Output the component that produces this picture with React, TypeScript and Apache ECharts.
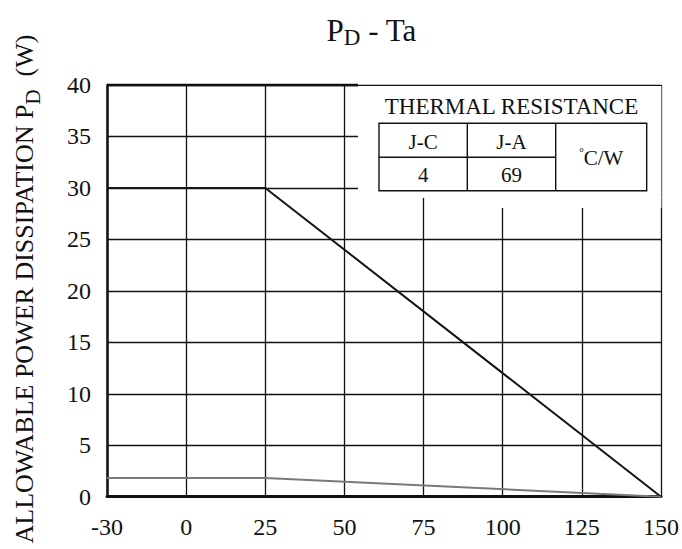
import React, { useEffect, useRef } from "react";
import * as echarts from "echarts";

// ---- data ----
const tempCategories = ["-30", "0", "25", "50", "75", "100", "125", "150"];
const yMin = 0;
const yMax = 40;
const yInterval = 5;
// P_D vs Ta with infinite heat sink (J-C)
const pdJunctionCase: [string, number][] = [
  ["-30", 30],
  ["25", 30],
  ["150", 0],
];
// P_D vs Ta without heat sink (J-A)
const pdJunctionAmbient: [string, number][] = [
  ["-30", 1.81],
  ["25", 1.81],
  ["150", 0],
];
const thermalHeaders = ["J-C", "J-A"];
const thermalValues = ["4", "69"];
const thermalUnit = "C/W";
const tableTitle = "THERMAL RESISTANCE";

const FONT = "Liberation Serif";
const INK = "#111";

export default function App() {
  const ref = useRef<HTMLDivElement>(null);
  useEffect(() => {
    if (!ref.current) return;
    const chart = echarts.init(ref.current, null, { renderer: "svg" });

    // layout (pixels)
    const gl = 107, gt = 85, gr = 662, gb = 496.7;
    const tx0 = 379, tx1 = 467.3, tx2 = 555.7, tx3 = 646.7;
    const ty0 = 123.3, ty1 = 157.3, ty2 = 190.7;

    const txt = (text: string, x: number, y: number, size: number) => ({
      type: "text",
      x,
      y,
      z: 110,
      style: {
        text,
        fill: INK,
        font: `${size}px "${FONT}"`,
        textAlign: "center",
        textVerticalAlign: "middle",
      },
    });

    chart.setOption({
      animation: false,
      backgroundColor: "#fff",
      grid: { left: gl, top: gt, width: gr - gl, height: gb - gt, show: false },
      xAxis: {
        type: "category",
        data: tempCategories,
        boundaryGap: false,
        axisLine: { show: true, lineStyle: { color: INK, width: 3 } },
        axisTick: { show: false },
        axisLabel: { color: INK, fontFamily: FONT, fontSize: 24, margin: 18 },
        splitLine: { show: true, lineStyle: { color: INK, width: 1.3 } },
      },
      yAxis: {
        type: "value",
        min: yMin,
        max: yMax,
        interval: yInterval,
        axisLine: { show: true, lineStyle: { color: INK, width: 2.5 } },
        axisTick: { show: false },
        axisLabel: { color: INK, fontFamily: FONT, fontSize: 24, margin: 16 },
        splitLine: { show: true, lineStyle: { color: INK, width: 1.3 } },
      },
      series: [
        {
          type: "line",
          data: pdJunctionCase,
          symbol: "none",
          lineStyle: { color: "#151515", width: 2 },
          z: 5,
        },
        {
          type: "line",
          data: pdJunctionAmbient,
          symbol: "none",
          lineStyle: { color: "#7a7a7a", width: 2 },
          z: 5,
        },
      ],
      graphic: [
        // title
        {
          type: "text",
          x: 371.5,
          y: 30,
          z: 110,
          style: {
            text: "{p|P}{d|D}{p| - Ta}",
            textAlign: "center",
            textVerticalAlign: "middle",
            fill: INK,
            rich: {
              p: { fontFamily: FONT, fontSize: 31, lineHeight: 38, verticalAlign: "middle", fill: INK },
              d: { fontFamily: FONT, fontSize: 23, lineHeight: 38, verticalAlign: "bottom", fill: INK },
            },
          },
        },
        // y axis name
        {
          type: "text",
          x: 24.5,
          y: 289,
          rotation: Math.PI / 2,
          z: 110,
          style: {
            text: "{p|ALLOWABLE POWER DISSIPATION P}{d|D}{p|  (W)}",
            textAlign: "center",
            textVerticalAlign: "middle",
            fill: INK,
            rich: {
              p: { fontFamily: FONT, fontSize: 26, lineHeight: 38, verticalAlign: "middle", fill: INK },
              d: { fontFamily: FONT, fontSize: 21, lineHeight: 38, verticalAlign: "bottom", fill: INK },
            },
          },
        },
        // white area behind the table
        { type: "rect", z: 100, shape: { x: 358, y: 86, width: gr - 358 - 0.6, height: 112 }, style: { fill: "#fff" } },
        { type: "rect", z: 100, shape: { x: 460, y: 197, width: gr - 460 - 0.6, height: 11 }, style: { fill: "#fff" } },
        // thicker top border on the left part
        { type: "line", z: 101, shape: { x1: gl, y1: gt, x2: 358, y2: gt }, style: { stroke: INK, lineWidth: 2.4 } },
        // table frame
        { type: "rect", z: 105, shape: { x: tx0, y: ty0, width: tx3 - tx0, height: ty2 - ty0 }, style: { fill: "none", stroke: INK, lineWidth: 1.4 } },
        { type: "line", z: 105, shape: { x1: tx1, y1: ty0, x2: tx1, y2: ty2 }, style: { stroke: INK, lineWidth: 1.4 } },
        { type: "line", z: 105, shape: { x1: tx2, y1: ty0, x2: tx2, y2: ty2 }, style: { stroke: INK, lineWidth: 1.4 } },
        { type: "line", z: 105, shape: { x1: tx0, y1: ty1, x2: tx2, y2: ty1 }, style: { stroke: INK, lineWidth: 1.4 } },
        txt(tableTitle, 511.5, 106.3, 23),
        txt(thermalHeaders[0], (tx0 + tx1) / 2, 141.5, 21),
        txt(thermalHeaders[1], (tx1 + tx2) / 2, 141.5, 21),
        txt(thermalValues[0], (tx0 + tx1) / 2, 174.5, 21),
        txt(thermalValues[1], (tx1 + tx2) / 2, 174.5, 21),
        {
          type: "text",
          x: (tx2 + tx3) / 2,
          y: 158,
          z: 110,
          style: {
            text: "{s|°}{m|" + thermalUnit + "}",
            textAlign: "center",
            textVerticalAlign: "middle",
            fill: INK,
            rich: {
              s: { fontFamily: FONT, fontSize: 12, lineHeight: 24, verticalAlign: "top", fill: INK },
              m: { fontFamily: FONT, fontSize: 21, lineHeight: 24, verticalAlign: "middle", fill: INK },
            },
          },
        },
      ],
    });
    return () => chart.dispose();
  }, []);
  return (
    <div
      ref={ref}
      style={{ position: "fixed", left: 0, top: 0, width: 682, height: 549, background: "#fff" }}
    />
  );
}
